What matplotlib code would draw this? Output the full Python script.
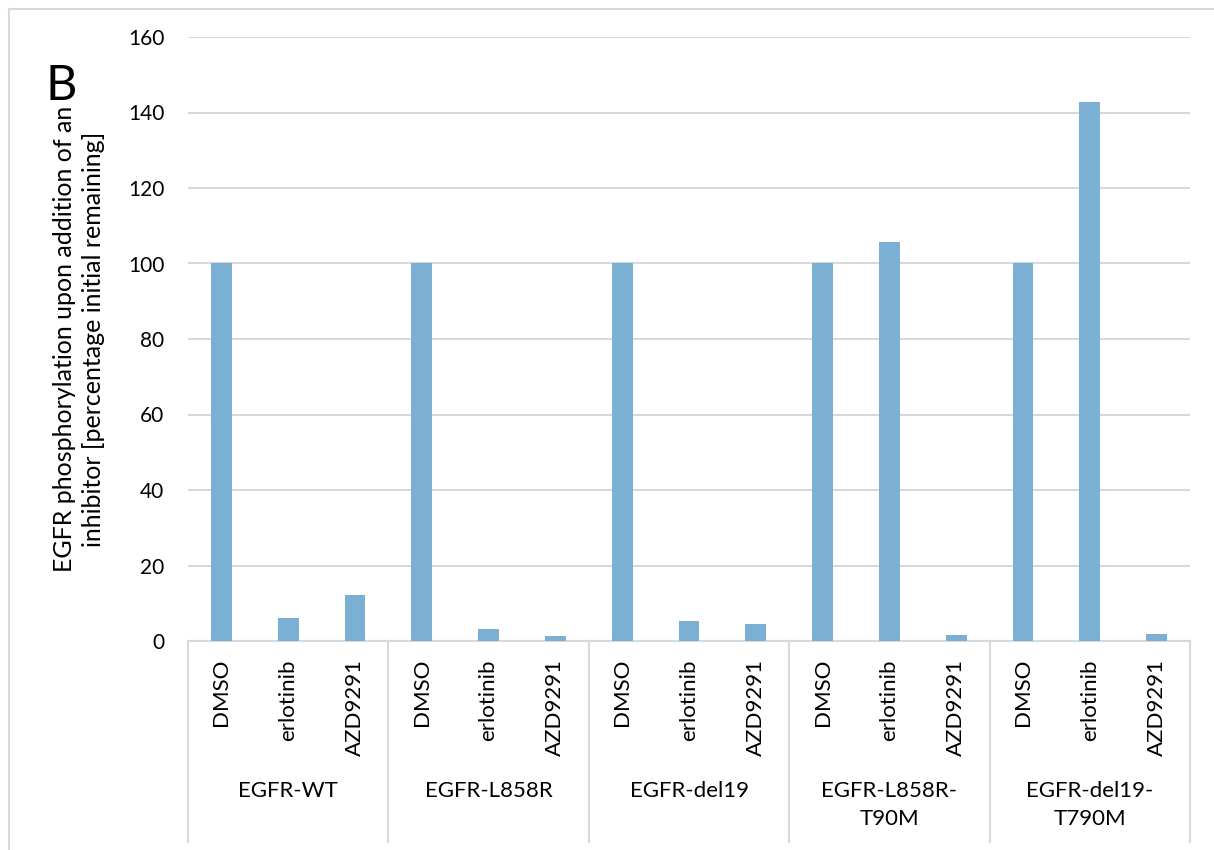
import matplotlib.pyplot as plt
import matplotlib.transforms as mtransforms
import numpy as np

plt.rcParams['font.family'] = ['Lato', 'DejaVu Sans']

# data
groups = ['EGFR-WT', 'EGFR-L858R', 'EGFR-del19', 'EGFR-L858R-\nT90M', 'EGFR-del19-\nT790M']
treatments = ['DMSO', 'erlotinib', 'AZD9291']
dmso = [100, 100, 100, 100, 100]
erlotinib = [6.0, 3.3, 5.2, 105.6, 142.8]
azd9291 = [12.3, 1.2, 4.5, 1.6, 1.8]

values = []
labels = []
for i in range(len(groups)):
    values += [dmso[i], erlotinib[i], azd9291[i]]
    labels += treatments

bar_color = '#7BAFD4'
grid_color = '#d9d9d9'

fig = plt.figure(figsize=(12.14, 8.5), dpi=100)
ax = fig.add_axes([188/1214, 1 - 641/850, (1190 - 188)/1214, (641 - 37)/850])

x = np.arange(len(values))
ax.bar(x, values, width=0.31, color=bar_color, zorder=3)

ax.set_xlim(-0.5, len(values) - 0.5)
ax.set_ylim(0, 160)
ax.set_yticks(np.arange(0, 161, 20))
ax.tick_params(axis='y', length=0, pad=17, labelsize=15)
ax.set_xticks([])
ax.yaxis.grid(True, color=grid_color, linewidth=1.5, zorder=0)
for s in ['top', 'right', 'left']:
    ax.spines[s].set_visible(False)
ax.spines['bottom'].set_color(grid_color)
ax.spines['bottom'].set_linewidth(1.5)

# y label placed directly so the two lines sit where the reference has them
fig.text(79/1214, 1 - 339/850,
         'EGFR phosphorylation upon addition of an\ninhibitor [percentage initial remaining]',
         rotation=90, ha='center', va='center', fontsize=18, linespacing=1.3,
         multialignment='center')

# multi-level category axis
trans = mtransforms.blended_transform_factory(ax.transData, ax.transAxes)
for xi, lab in zip(x, labels):
    ax.text(xi, -0.03, lab, rotation=90, ha='center', va='top', fontsize=16, transform=trans)
n = len(treatments)
for gi, g in enumerate(groups):
    cx = gi * n + (n - 1) / 2
    ax.text(cx, -0.232, g, ha='center', va='top', fontsize=16, transform=trans,
            multialignment='center', linespacing=1.5)
for b in np.arange(0, len(values) + 1, n) - 0.5:
    ax.plot([b, b], [0, -0.333], color=grid_color, linewidth=1.5, transform=trans, clip_on=False)

# panel letter and outer frame
fig.text(46/1214, 1 - 100/850, 'B', fontsize=35, ha='left', va='baseline')
fig.add_artist(plt.Line2D([9/1214, 1], [1 - 8.5/850] * 2, color=grid_color, linewidth=1.5))
fig.add_artist(plt.Line2D([9/1214] * 2, [0, 1 - 8.5/850], color=grid_color, linewidth=1.5))

fig.savefig('out.png', dpi=100)
